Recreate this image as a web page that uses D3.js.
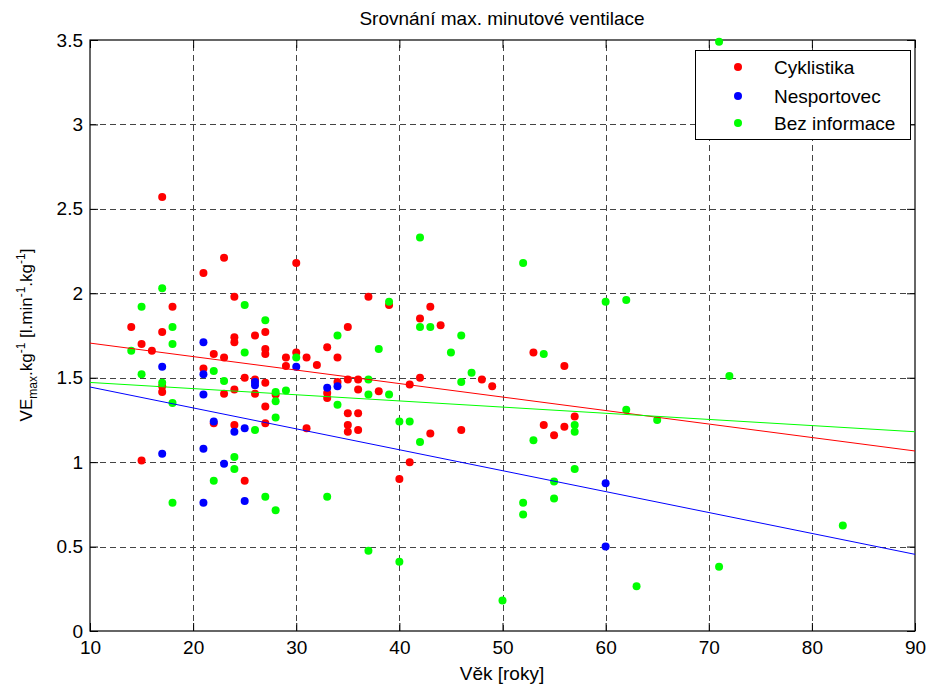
<!DOCTYPE html>
<html>
<head>
<meta charset="utf-8">
<script src="https://cdn.jsdelivr.net/npm/d3@7"></script>
<style>
  html, body { margin: 0; padding: 0; background: #fff; }
  svg { display: block; }
  text { font-family: "Liberation Sans", Arial, Helvetica, sans-serif; fill: #000; }
</style>
</head>
<body>
<svg id="chart" width="927" height="685"></svg>
<script>
// ---- data ----
const cykAge = [14,15,15,16,17,17,17,17,18,21,21,22,22,23,23,23,24,24,24,24,24,25,25,26,26,26,27,27,27,27,27,27,28,29,29,30,30,31,31,32,33,33,33,34,34,35,35,35,35,35,36,36,36,36,37,38,39,40,41,41,42,42,43,43,44,46,48,49,53,54,55,56,56,57];
const cykVal = [1.80,1.70,1.01,1.66,2.57,1.77,1.45,1.415,1.92,2.12,1.555,1.64,1.23,2.21,1.62,1.405,1.98,1.74,1.71,1.43,1.22,1.50,0.89,1.75,1.49,1.405,1.77,1.67,1.64,1.47,1.33,1.23,1.40,1.62,1.57,2.18,1.65,1.62,1.20,1.575,1.68,1.41,1.38,1.62,1.475,1.80,1.49,1.29,1.22,1.18,1.49,1.43,1.29,1.19,1.98,1.42,1.93,0.90,1.46,1.00,1.85,1.50,1.92,1.17,1.81,1.19,1.49,1.45,1.65,1.22,1.16,1.57,1.21,1.27];

const nesAge = [17,17,21,21,21,21,21,22,23,24,25,25,26,26,30,33,34,60,60];
const nesVal = [1.565,1.05,1.71,1.52,1.40,1.08,0.76,1.24,0.99,1.18,1.20,0.77,1.475,1.455,1.565,1.44,1.45,0.875,0.50];

const bezAge = [14,15,15,17,17,18,18,18,18,22,22,23,24,24,25,25,26,27,27,28,28,28,28,29,30,33,34,34,37,37,37,38,39,39,40,40,41,42,42,42,43,45,46,46,47,50,52,52,52,53,54,55,55,57,57,57,60,62,62,63,65,71,71,72,83];
const bezVal = [1.66,1.92,1.52,2.03,1.47,1.80,1.70,1.35,0.76,1.54,0.89,1.48,1.03,0.96,1.93,1.65,1.19,1.84,0.795,1.415,1.36,1.265,0.715,1.425,1.62,0.795,1.75,1.34,1.49,1.40,0.475,1.67,1.95,1.40,1.24,0.41,1.24,2.33,1.80,1.12,1.80,1.65,1.75,1.475,1.53,0.18,2.18,0.76,0.69,1.13,1.64,0.885,0.785,1.22,1.18,0.96,1.95,1.96,1.31,0.265,1.25,3.49,0.38,1.51,0.625];

// linear trend lines (values at x = 10 and x = 90)
const trendX = [10, 90];
const cykTrend = [1.705, 1.066];
const nesTrend = [1.445, 0.454];
const bezTrend = [1.472, 1.18];

const seriesNames = ["Cyklistika", "Nesportovec", "Bez informace"];
const seriesColors = ["#ff0000", "#0000ff", "#00ff00"];

const xTicks = [10,20,30,40,50,60,70,80,90];
const yTicks = [0,0.5,1,1.5,2,2.5,3,3.5];
const yTickLabels = ["0","0.5","1","1.5","2","2.5","3","3.5"];

const titleText = "Srovnání max. minutové ventilace";
const xLabelText = "Věk [roky]";

// ---- layout ----
const L = 90, R = 915, T = 40, B = 631;
const FS = 19;
const svg = d3.select("#chart");
const x = d3.scaleLinear().domain([10, 90]).range([L, R]);
const y = d3.scaleLinear().domain([0, 3.5]).range([B, T]);

svg.append("rect").attr("x",0).attr("y",0).attr("width",927).attr("height",685).attr("fill","#fff");

// grid
const grid = svg.append("g").attr("stroke", "#444").attr("stroke-width", 1).attr("stroke-dasharray", "6,4").attr("fill","none");
xTicks.slice(1, -1).forEach(t => {
  grid.append("line").attr("x1", Math.round(x(t))+0.5).attr("x2", Math.round(x(t))+0.5).attr("y1", B).attr("y2", T);
});
yTicks.slice(1, -1).forEach(t => {
  grid.append("line").attr("y1", Math.round(y(t))+0.5).attr("y2", Math.round(y(t))+0.5).attr("x1", L).attr("x2", R);
});

// axes (inside ticks, mirrored on all four sides)
const tick = 8;
const axB = d3.axisBottom(x).tickValues(xTicks).tickSizeInner(-tick).tickSizeOuter(0).tickPadding(10).tickFormat(d3.format("d"));
const axT = d3.axisTop(x).tickValues(xTicks).tickSizeInner(-tick).tickSizeOuter(0).tickFormat("");
const axL = d3.axisLeft(y).tickValues(yTicks).tickSizeInner(-tick).tickSizeOuter(0).tickPadding(7).tickFormat((d,i) => yTickLabels[i]);
const axR = d3.axisRight(y).tickValues(yTicks).tickSizeInner(-tick).tickSizeOuter(0).tickFormat("");

function styleAxis(g) {
  g.selectAll("path").remove();
  g.selectAll("line").attr("stroke", "#000");
  g.selectAll("text").style("font-size", FS + "px").attr("fill", "#000");
}
svg.append("g").attr("transform", `translate(0,${B})`).call(axB).call(styleAxis);
svg.append("g").attr("transform", `translate(0,${T})`).call(axT).call(styleAxis);
svg.append("g").attr("transform", `translate(${L},0)`).call(axL).call(styleAxis);
svg.append("g").attr("transform", `translate(${R},0)`).call(axR).call(styleAxis);

// box
svg.append("rect").attr("x", L).attr("y", T).attr("width", R - L).attr("height", B - T)
  .attr("fill", "none").attr("stroke", "#000").attr("stroke-width", 1.2);

// points
const groups = [
  {ages: cykAge, vals: cykVal, color: seriesColors[0]},
  {ages: nesAge, vals: nesVal, color: seriesColors[1]},
  {ages: bezAge, vals: bezVal, color: seriesColors[2]}
];
groups.forEach(gp => {
  svg.append("g").selectAll("circle").data(gp.ages.map((a, i) => [a, gp.vals[i]])).join("circle")
    .attr("cx", d => x(d[0])).attr("cy", d => y(d[1])).attr("r", 4).attr("fill", gp.color);
});

// trend lines
const line = d3.line().x(d => x(d[0])).y(d => y(d[1]));
[[cykTrend, seriesColors[0]], [nesTrend, seriesColors[1]], [bezTrend, seriesColors[2]]].forEach(([tr, c]) => {
  svg.append("path").datum(trendX.map((xv, i) => [xv, tr[i]])).attr("d", line)
    .attr("fill", "none").attr("stroke", c).attr("stroke-width", 1);
});

// legend
const lg = svg.append("g");
lg.append("rect").attr("x", 695.5).attr("y", 50.5).attr("width", 215).attr("height", 89)
  .attr("fill", "#fff").attr("stroke", "#000").attr("stroke-width", 1);
const legY = [67, 96, 123];
seriesNames.forEach((n, i) => {
  lg.append("circle").attr("cx", 738).attr("cy", legY[i]).attr("r", 4).attr("fill", seriesColors[i]);
  lg.append("text").attr("x", 774).attr("y", legY[i]).attr("dy", "0.36em").style("font-size", FS + "px").text(n);
});

// title and labels
svg.append("text").attr("x", 502).attr("y", 25).attr("text-anchor", "middle").style("font-size", FS + "px").text(titleText);
svg.append("text").attr("x", 502).attr("y", 680).attr("text-anchor", "middle").style("font-size", FS + "px").text(xLabelText);

const yl = svg.append("text").attr("transform", "translate(32,335) rotate(-90)").attr("text-anchor", "middle").style("font-size", "17px");
yl.append("tspan").text("VE");
yl.append("tspan").attr("dy", 5).style("font-size", "12px").text("max");
yl.append("tspan").attr("dy", -5).text(".kg");
yl.append("tspan").attr("dy", -7).style("font-size", "12px").text("-1");
yl.append("tspan").attr("dy", 7).text(" [l.min");
yl.append("tspan").attr("dy", -7).style("font-size", "12px").text("-1");
yl.append("tspan").attr("dy", 7).text(".kg");
yl.append("tspan").attr("dy", -7).style("font-size", "12px").text("-1");
yl.append("tspan").attr("dy", 7).text("]");
</script>
</body>
</html>
